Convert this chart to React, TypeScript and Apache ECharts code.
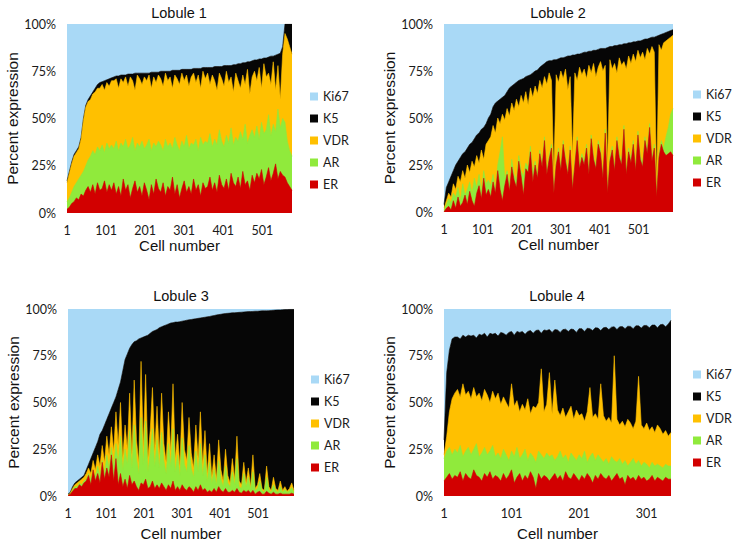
import React, { useEffect, useRef } from 'react';
import * as echarts from 'echarts';

// ---------------- DATA (cumulative boundaries in %) ----------------
// x positions are cell number - 1, sampled every STEP cells.
// Each *_TOP array is the upper edge of that marker's band (the bands sum to 100%; Ki67 fills the rest up to 100%).
const LEGEND_ORDER = ['Ki67', 'K5', 'VDR', 'AR', 'ER'];

const L1_STEP = 6;
const L1_K5_TOP = [17,22,27,31,33,35,40,50,57,60,62,64,66,68,69,69.5,70,70.5,71,71.5,
  72,72.5,72.5,73,73,73,73.5,73.5,73.5,74,74,74,74,74,74,74,74.5,74.5,74.5,74.5,
  75,75,75,75,75,75.5,75.5,75.5,75.5,76,76,76,76,76,76.5,76.5,76.5,76.5,77,77,
  77,77,77,77.5,77.5,77.5,77.5,78,78,78,78,78.5,78.5,79,79,79.5,79.5,80,80,80.5,
  81,81,81.5,81.5,82,82,82.5,83,83,83.5,84,84.5,88,100,100,100,100];
const L1_VDR_TOP = [16,21,26,30,32,34,39,49,56,59,60,63,64,66,66,68,65,69,67,70,
  70,71,66,71,69,72,67,72,70,65,73,71,68,72,70,73,66,72,69,73,
  71,67,74,70,72,66,73,71,68,74,70,73,67,72,74,69,73,66,75,71,
  74,68,73,70,65,74,71,67,75,69,72,64,74,70,66,73,68,76,63,72,
  75,70,77,66,79,72,74,68,80,65,78,60,84,95,92,88,84];
const L1_AR_TOP = [6,8,11,14,16,18,20,22,25,28,30,33,31,35,33,36,32,37,34,36,
  34,38,33,37,35,39,34,36,40,33,37,35,38,34,36,39,33,37,35,38,
  36,33,39,35,37,34,40,36,33,38,35,41,34,37,36,39,33,40,36,38,
  37,42,35,39,36,44,38,35,41,37,45,36,40,38,43,39,47,37,41,44,
  40,46,39,48,42,44,52,41,47,43,55,45,50,48,38,33,30];
const L1_ER_TOP = [2,3,5,6,8,7,10,9,12,14,11,15,10,16,12,13,17,11,15,12,
  16,10,14,9,18,12,15,8,13,17,11,14,9,16,12,7,15,10,18,13,
  11,16,9,14,12,19,10,15,8,13,17,11,14,10,18,12,15,9,16,13,
  14,19,12,16,11,20,15,13,18,12,21,16,14,19,13,22,15,17,12,20,
  16,21,18,23,15,19,24,17,21,26,18,22,20,19,16,14,12];

const L2_STEP = 6;
const L2_K5_TOP = [4,13,16,19,22,25,27,29,31,32,34,36,37,39,41,42,44,45,47,50,
  52,56,58,59,60,61,62,64,66,67,68,69,70,70.5,71,72,72.5,73,74,75,
  75.5,77,78,79,80,80.5,80.5,81,81,81.5,82,82,82.5,83,83,83.5,83.5,84,84,84.5,
  85,85,85.5,85.5,86,86,86.5,87,87,87,87.5,88,88,88.5,88.5,89,89,89.5,89.5,90,
  90,90.5,90.5,91,91,91.5,92,92,92.5,93,93,93.5,94,94.5,95,95.5,96,96.5,97];
const L2_VDR_TOP = [2,6,10,8,15,12,19,16,22,18,25,21,27,24,30,26,33,28,36,38,
  40,46,42,50,47,52,49,55,51,58,54,60,56,62,58,64,57,66,61,67,
  63,70,66,72,68,74,70,20,73,69,75,71,76,65,72,30,74,70,77,73,
  76,71,78,74,79,72,77,80,75,78,25,81,76,79,74,82,78,80,76,83,
  79,84,80,86,82,85,81,87,84,88,85,15,89,86,90,91,92,93,94];
const L2_AR_TOP = [1,4,7,5,10,8,13,6,15,9,12,16,10,18,13,20,11,22,15,17,
  14,20,12,25,32,40,18,22,15,28,20,17,30,22,19,26,24,35,21,27,
  20,33,26,40,22,30,36,12,27,34,24,38,29,22,35,14,27,40,25,31,
  27,36,22,41,30,25,38,33,20,44,12,29,35,24,40,31,27,46,22,34,
  28,38,24,43,30,26,40,33,47,29,36,10,31,38,34,40,45,52,55];
const L2_ER_TOP = [0,2,3,1,6,2,8,3,5,9,4,11,6,3,10,14,7,18,9,12,
  8,16,10,22,12,6,14,20,11,24,17,13,27,19,9,23,21,32,16,25,
  18,31,24,38,20,28,34,10,25,32,22,36,27,20,33,12,25,38,23,29,
  25,34,20,39,28,23,36,31,18,42,10,27,33,22,38,29,25,44,20,32,
  26,36,22,41,28,24,38,31,45,27,34,8,29,36,32,30,31,32,30];

const L3_STEP = 6;
const L3_K5_TOP = [1,2,5,7,8,9,10,11,14,17,20,23,26,29,33,35,38,41,44,47,
  50,53,57,61,67,73,76,79,81,82.5,83,84,84.5,85,85.5,86,87,88,88.5,89,
  90,90.5,91,91.5,92,92.5,92.7,93,93,93.2,93.5,93.7,94,94.2,94.4,94.6,94.8,95,95.2,95.4,
  95.6,95.8,96,96.3,96.5,96.8,97,97.2,97.4,97.6,97.7,97.8,98,98,98.1,98.2,98.3,98.4,98.5,98.6,
  98.6,98.7,98.8,98.8,98.9,99,99,99,99.1,99.2,99.3,99.4,99.5,99.5,99.6,99.7,99.7,99.8,99.8,99.8];
const L3_VDR_TOP = [0.5,1.5,4,6,7,8,9,10,12,15,12,19,14,22,16,27,18,32,22,37,
  24,45,27,50,20,38,25,55,22,62,30,18,72,26,65,20,35,58,24,48,
  22,55,28,18,45,24,60,20,33,16,50,25,19,42,23,15,38,20,45,17,
  35,12,28,10,22,9,30,14,8,25,11,7,20,9,32,8,6,18,7,15,
  5,22,4,6,12,4,3,16,5,3,10,4,3,8,3,5,2.5,4,7,3];
const L3_AR_TOP = [0.4,1.2,3,5,5,7,6,8,9,12,9,14,10,16,11,19,12,22,15,26,
  16,28,18,32,14,25,17,35,15,38,20,12,42,17,40,13,23,36,16,30,
  15,34,19,12,28,16,36,13,22,11,31,17,13,27,15,10,24,13,28,11,
  22,8,18,7,14,6,19,9,5,16,7,5,13,6,20,5,4,12,5,10,
  3.5,13,3,4,8,3,2,10,3.5,2,6,3,2,5,2,3.5,2,3,4.5,2];
const L3_ER_TOP = [0.3,1,2.5,4,4,6,5,7,8,11,6,14,8,12,7,18,9,15,10,22,
  8,20,6,12,5,9,4,11,6,8,5,3,7,6,9,4,5,8,4,6,
  4,7,5,3,6,4,8,3,5,3,6,4,3,5,4,2,5,3,6,3,
  4,2,3,2,4,2,5,3,2,4,2,2,3,2,4,2,1.5,3,2,3,
  1.5,3,1,2,2.5,1,1,2.5,1.5,1,2,1,1,1.5,1,1,1,1,1.5,1];

const L4_STEP = 4;
const L4_K5_TOP = [30,66,78,84,85,85,84,86,85,86,85.5,86,84.5,86.5,86,87,85,87,86.5,87,
  85.5,87.5,87,86,87.5,88,86,88,87.5,88,86.5,88,88.5,87,88.5,88.8,87,88.8,88.5,89,
  87.5,89,88.8,87.5,89,89.2,88,89.3,89,87.5,89.5,89.5,88,89.7,89.5,88.5,90,89.8,88.5,90,
  90.2,89,90.3,90.5,89,90.5,90.6,89.5,90.8,90.7,89.5,91,91,89.8,91.2,91.2,90,91.4,91.4,90,
  91.6,91.8,90.5,92,94];
const L4_VDR_TOP = [22,32,45,52,55,57,53,60,54,56,52,58,53,55,51,57,54,50,56,52,
  55,49,53,50,47,60,48,51,45,49,46,52,44,48,47,50,68,45,49,66,
  44,62,46,43,47,42,45,48,41,46,43,44,40,45,58,42,44,41,60,43,
  40,42,39,75,41,38,40,37,41,39,36,40,64,38,36,39,35,37,34,38,
  36,33,35,32,34];
const L4_AR_TOP = [20,24,26,22,25,23,27,21,24,26,22,25,28,21,23,26,22,24,27,21,
  23,20,25,22,19,24,21,26,20,22,25,19,23,21,18,24,22,20,23,21,
  22,19,21,24,20,22,18,23,21,19,22,20,24,18,21,23,19,22,20,18,
  20,17,21,19,18,20,17,19,16,18,20,17,19,16,18,17,15,18,16,17,
  16,15,17,16,16];
const L4_ER_TOP = [8,10,12,9,11,10,13,8,12,10,9,14,11,10,8,12,10,13,9,11,
  10,8,12,9,11,14,7,10,12,8,11,9,13,10,4,12,9,11,10,8,
  10,12,9,11,8,13,10,9,12,10,8,11,9,12,10,7,11,9,12,10,
  9,11,8,10,12,9,10,6,11,9,10,8,11,9,10,8,9,11,8,10,
  9,8,10,9,9];

const LOBULES = [
  { title: 'Lobule 1', step: L1_STEP, k5: L1_K5_TOP, vdr: L1_VDR_TOP, ar: L1_AR_TOP, er: L1_ER_TOP },
  { title: 'Lobule 2', step: L2_STEP, k5: L2_K5_TOP, vdr: L2_VDR_TOP, ar: L2_AR_TOP, er: L2_ER_TOP },
  { title: 'Lobule 3', step: L3_STEP, k5: L3_K5_TOP, vdr: L3_VDR_TOP, ar: L3_AR_TOP, er: L3_ER_TOP },
  { title: 'Lobule 4', step: L4_STEP, k5: L4_K5_TOP, vdr: L4_VDR_TOP, ar: L4_AR_TOP, er: L4_ER_TOP },
];

// ---------------- STYLE / LAYOUT ----------------
const COLORS: Record<string, string> = {
  Ki67: '#a9d9f6',
  K5: '#060606',
  VDR: '#ffc000',
  AR: '#90ea3c',
  ER: '#d20000',
};

const LAYOUT = [
  { grid: { left: 67, top: 24, width: 225, height: 189 }, titleX: 179, titleTop: 5, legendLeft: 310, legendTop: 90, nameGap: 25 },
  { grid: { left: 444, top: 24, width: 229, height: 188 }, titleX: 558, titleTop: 5, legendLeft: 693, legendTop: 88, nameGap: 25 },
  { grid: { left: 68, top: 309, width: 226, height: 187 }, titleX: 181, titleTop: 288, legendLeft: 311, legendTop: 373, nameGap: 30 },
  { grid: { left: 444, top: 309, width: 227, height: 187 }, titleX: 557, titleTop: 288, legendLeft: 693, legendTop: 368, nameGap: 30 },
];

const TICK_FONT = 'Lato, "Open Sans", sans-serif';
const NAME_FONT = '"Liberation Sans", Arial, sans-serif';

function buildOption() {
  const grid: any[] = [];
  const xAxis: any[] = [];
  const yAxis: any[] = [];
  const title: any[] = [];
  const legend: any[] = [];
  const series: any[] = [];

  LOBULES.forEach((lob, idx) => {
    const lay = LAYOUT[idx];
    const xs = lob.k5.map((_, i) => i * lob.step);
    const maxX = xs[xs.length - 1];
    grid.push({ ...lay.grid, containLabel: false });
    xAxis.push({
      type: 'value', gridIndex: idx, min: 0, max: maxX, interval: 100,
      axisLine: { show: false }, axisTick: { show: false }, splitLine: { show: false },
      axisLabel: {
        margin: 11, fontSize: 12.5, color: '#1a1a1a', fontFamily: TICK_FONT,
        formatter: (v: number) => (v % 100 === 0 ? String(v + 1) : ''),
      },
      name: 'Cell number', nameLocation: 'middle', nameGap: lay.nameGap,
      nameTextStyle: { fontSize: 15, color: '#111', fontFamily: NAME_FONT },
    });
    yAxis.push({
      type: 'value', gridIndex: idx, min: 0, max: 100, interval: 25,
      axisLine: { show: false }, axisTick: { show: false }, splitLine: { show: false },
      axisLabel: { margin: 11, fontSize: 12.5, color: '#1a1a1a', fontFamily: TICK_FONT, formatter: '{value}%' },
      name: 'Percent expression', nameLocation: 'middle', nameGap: 44, nameRotate: 90,
      nameTextStyle: { fontSize: 15.5, color: '#111', fontFamily: NAME_FONT },
    });
    title.push({
      text: lob.title, left: lay.titleX, top: lay.titleTop, textAlign: 'center', padding: 0,
      textStyle: { fontSize: 14.5, fontWeight: 'normal', color: '#111', fontFamily: NAME_FONT },
    });
    legend.push({
      data: LEGEND_ORDER, orient: 'vertical', left: lay.legendLeft, top: lay.legendTop, padding: 0,
      icon: 'rect', itemWidth: 8, itemHeight: 8, itemGap: 9, selectedMode: false,
      textStyle: { fontSize: 12.5, color: '#1a1a1a', fontFamily: TICK_FONT },
    });

    // Bands drawn as overlapping areas from their cumulative upper edges:
    // Ki67 fills from the K5 edge up to 100%, the others fill down to 0%, later ones painted on top.
    const bands: { name: string; top: number[]; origin: string }[] = [
      { name: 'Ki67', top: lob.k5, origin: 'end' },
      { name: 'K5', top: lob.k5, origin: 'start' },
      { name: 'VDR', top: lob.vdr, origin: 'start' },
      { name: 'AR', top: lob.ar, origin: 'start' },
      { name: 'ER', top: lob.er, origin: 'start' },
    ];
    bands.forEach((b, k) => {
      series.push({
        name: b.name, type: 'line', xAxisIndex: idx, yAxisIndex: idx,
        data: b.top.map((v, i) => [xs[i], v]),
        symbol: 'none', showSymbol: false, silent: true, z: 2 + k * 0.01,
        lineStyle: { width: b.name === 'Ki67' ? 0 : 0.6, color: COLORS[b.name] },
        itemStyle: { color: COLORS[b.name] },
        areaStyle: { color: COLORS[b.name], opacity: 1, origin: b.origin },
        emphasis: { disabled: true },
      });
    });
  });

  return { animation: false, backgroundColor: '#ffffff', grid, xAxis, yAxis, title, legend, series };
}

export default function App() {
  const ref = useRef<HTMLDivElement>(null);
  useEffect(() => {
    if (!ref.current) return;
    const chart = echarts.init(ref.current, undefined, { renderer: 'svg' });
    chart.setOption(buildOption() as any);
    return () => chart.dispose();
  }, []);
  return <div ref={ref} style={{ position: 'absolute', left: 0, top: 0, width: 734, height: 548 }} />;
}
